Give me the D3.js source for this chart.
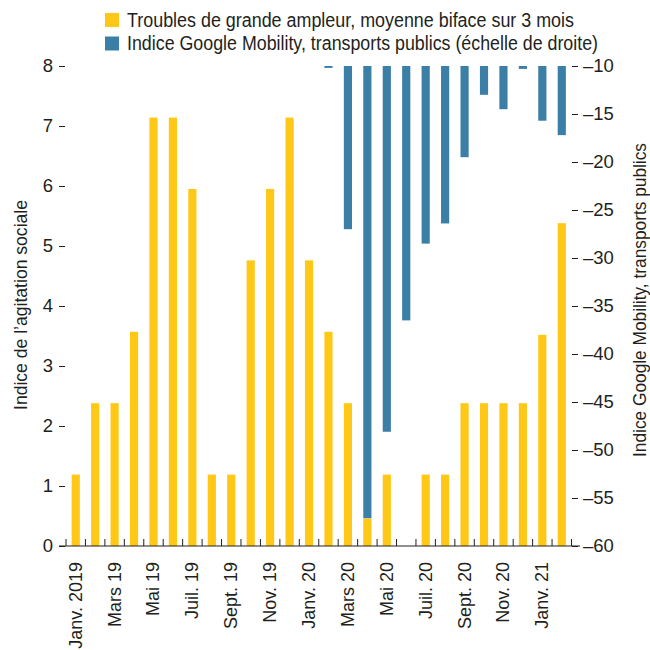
<!DOCTYPE html>
<html>
<head>
<meta charset="utf-8">
<script src="https://cdn.jsdelivr.net/npm/d3@7"></script>
<style>
  body { margin: 0; background: #fff; }
  text { font-family: "Liberation Sans", Arial, sans-serif; fill: #231f20; }
</style>
</head>
<body>
<div id="chart"></div>
<script>
// monthly categories, Jan 2019 - Feb 2021
var months = ["2019-01","2019-02","2019-03","2019-04","2019-05","2019-06","2019-07","2019-08","2019-09","2019-10","2019-11","2019-12",
  "2020-01","2020-02","2020-03","2020-04","2020-05","2020-06","2020-07","2020-08","2020-09","2020-10","2020-11","2020-12",
  "2021-01","2021-02"];
var tickMonths = ["2019-01","2019-03","2019-05","2019-07","2019-09","2019-11","2020-01","2020-03","2020-05","2020-07","2020-09","2020-11","2021-01"];
var tickLabels = ["Janv. 2019","Mars 19","Mai 19","Juil. 19","Sept. 19","Nov. 19","Janv. 20","Mars 20","Mai 20","Juil. 20","Sept. 20","Nov. 20","Janv. 21"];

// social unrest index (left axis)
var unrest = [1.19,2.38,2.38,3.57,7.14,7.14,5.95,1.19,1.19,4.76,5.95,7.14,
  4.76,3.57,2.38,0.46,1.19,0,1.19,1.19,2.38,2.38,2.38,2.38,
  3.52,5.38];
// Google mobility, public transport (right axis)
var mobility = [null,null,null,null,null,null,null,null,null,null,null,null,
  null,-10.2,-27,-57.1,-48.1,-36.5,-28.5,-26.4,-19.5,-13,-14.5,-10.3,
  -15.7,-17.2];

var legendItems = ["Troubles de grande ampleur, moyenne biface sur 3 mois",
  "Indice Google Mobility, transports publics (échelle de droite)"];
var colors = ["#ffc716", "#3b7ea6"];

var width = 650, height = 650;
var svg = d3.select("#chart").append("svg")
  .attr("width", width).attr("height", height);

var x = d3.scaleBand().domain(months).range([66, 571.5]);
var yL = d3.scaleLinear().domain([0, 8]).range([546, 66]);
var yR = d3.scaleLinear().domain([-60, -10]).range([546, 66]);
var barW = x.bandwidth() * 0.42;
var fs = 18.5;

// yellow bars
svg.append("g").selectAll("rect")
  .data(months.map(function (m, i) { return { m: m, v: unrest[i] }; }).filter(function (d) { return d.v > 0; }))
  .enter().append("rect")
  .attr("x", function (d) { return x(d.m) + (x.bandwidth() - barW) / 2; })
  .attr("width", barW)
  .attr("y", function (d) { return yL(d.v); })
  .attr("height", function (d) { return yL(0) - yL(d.v); })
  .attr("fill", colors[0]);

// blue bars hang from the top of the right scale
svg.append("g").selectAll("rect")
  .data(months.map(function (m, i) { return { m: m, v: mobility[i] }; }).filter(function (d) { return d.v !== null; }))
  .enter().append("rect")
  .attr("x", function (d) { return x(d.m) + (x.bandwidth() - barW) / 2; })
  .attr("width", barW)
  .attr("y", yR(-10))
  .attr("height", function (d) { return yR(d.v) - yR(-10); })
  .attr("fill", colors[1]);

// left axis
var left = svg.append("g").attr("transform", "translate(65,0)")
  .call(d3.axisLeft(yL).ticks(8).tickSize(6).tickPadding(6));
left.select(".domain").remove();
left.selectAll("line").attr("stroke", "#231f20");
left.selectAll("text").style("font-size", fs + "px").attr("fill", "#231f20");

// right axis
var right = svg.append("g").attr("transform", "translate(572,0)")
  .call(d3.axisRight(yR).ticks(10).tickSize(6).tickPadding(5)
    .tickFormat(function (d) { return "\u2013" + Math.abs(d); }));
right.select(".domain").remove();
right.selectAll("line").attr("stroke", "#231f20");
right.selectAll("text").style("font-size", fs + "px").attr("fill", "#231f20");

// bottom baseline and boundary ticks
svg.append("line").attr("x1", 59).attr("x2", 580)
  .attr("y1", yL(0)).attr("y2", yL(0))
  .attr("stroke", "#231f20").attr("stroke-width", 1.2);
var bounds = months.map(function (m) { return x(m); }).concat([x.range()[1]]);
svg.append("g").selectAll("line").data(bounds).enter().append("line")
  .attr("x1", function (d) { return d; }).attr("x2", function (d) { return d; })
  .attr("y1", yL(0)).attr("y2", yL(0) - 7)
  .attr("stroke", "#231f20");

// x labels, rotated
svg.append("g").selectAll("text").data(tickMonths).enter().append("text")
  .attr("transform", function (d) {
    return "translate(" + (x(d) + x.bandwidth() / 2 + 6) + ",562) rotate(-90)";
  })
  .attr("text-anchor", "end")
  .style("font-size", "18px")
  .text(function (d, i) { return tickLabels[i]; });

// axis titles
svg.append("text")
  .attr("transform", "translate(27,305) rotate(-90)")
  .attr("text-anchor", "middle")
  .attr("textLength", 210).attr("lengthAdjust", "spacingAndGlyphs")
  .style("font-size", "18px")
  .text("Indice de l\u2019agitation sociale");
svg.append("text")
  .attr("transform", "translate(646,300) rotate(-90)")
  .attr("text-anchor", "middle")
  .attr("textLength", 314).attr("lengthAdjust", "spacingAndGlyphs")
  .style("font-size", "18px")
  .text("Indice Google Mobility, transports publics");

// legend
var legendLen = [447, 471];
var lg = svg.append("g").selectAll("g").data(legendItems).enter().append("g")
  .attr("transform", function (d, i) { return "translate(105," + (13 + i * 23.5) + ")"; });
lg.append("rect").attr("width", 14).attr("height", 14)
  .attr("fill", function (d, i) { return colors[i]; });
lg.append("text").attr("x", 22).attr("y", 13.5)
  .attr("textLength", function (d, i) { return legendLen[i]; })
  .attr("lengthAdjust", "spacingAndGlyphs")
  .style("font-size", "19.5px")
  .text(function (d) { return d; });
</script>
</body>
</html>
